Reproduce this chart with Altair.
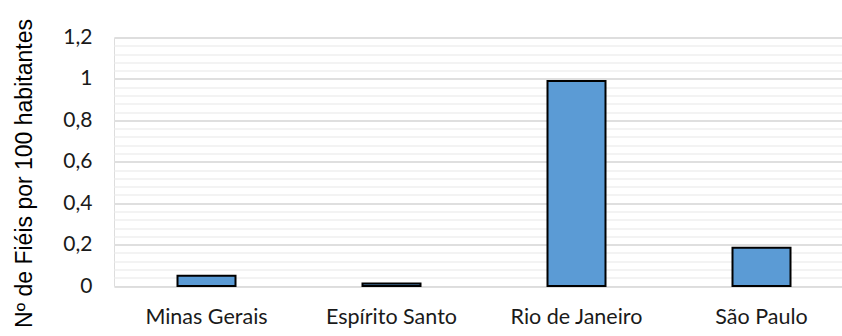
import altair as alt
import pandas as pd

states = ["Minas Gerais", "Espírito Santo", "Rio de Janeiro", "São Paulo"]
values = [0.05, 0.012, 0.99, 0.185]
major_ticks = [0, 0.2, 0.4, 0.6, 0.8, 1.0, 1.2]
minor_ticks = [round(i * 0.04, 2) for i in range(31)]

df = pd.DataFrame({"estado": states, "valor": values})

yscale = alt.Scale(domain=[0, 1.2], nice=False, zero=True)
xscale = alt.Scale(range=[0, 740])
xaxis = alt.Axis(title=None, labelAngle=0, ticks=False, domain=False,
                 labelFont="Lato", labelFontSize=21.5, labelColor="#1a1a1a",
                 labelPadding=20)

minor = alt.Chart(df).mark_bar(opacity=0).encode(
    x=alt.X("estado:N", sort=states, scale=xscale, axis=xaxis),
    y=alt.Y("valor:Q", scale=yscale,
            axis=alt.Axis(values=minor_ticks, grid=True, gridColor="#efefef",
                          gridWidth=1.5, labels=False, ticks=False, domain=False,
                          title=None, orient="left")),
)

bars = alt.Chart(df).mark_bar(size=58, color="#5b9bd5", stroke="#000000",
                              strokeWidth=2).encode(
    x=alt.X("estado:N", sort=states, scale=xscale, axis=xaxis),
    y=alt.Y("valor:Q", scale=yscale,
            axis=alt.Axis(values=major_ticks, grid=True, gridColor="#d9d9d9",
                          gridWidth=1.5, ticks=False, domain=False,
                          labelExpr="replace(format(datum.value, ''), '.', ',')",
                          labelFont="Lato", labelFontSize=21, labelColor="#1a1a1a",
                          labelPadding=22, orient="left",
                          title="Nº de Fiéis por 100 habitantes",
                          titleFont="Liberation Sans", titleFontSize=23,
                          titleFontWeight=400, titleColor="#000000",
                          titleAlign="center", titleBaseline="alphabetic",
                          titleAngle=270,
                          titleX=-83, titleY=135.5)),
)

chart = alt.layer(minor, bars).resolve_axis(y="independent").properties(
    width=728, height=248.5,
    autosize=alt.AutoSizeParams(type="none"),
    padding={"left": 114, "top": 37.5, "right": 0, "bottom": 50},
).configure_view(stroke=None).configure(background="white")

chart.save("out.html", embed_options={"renderer": "svg", "actions": False})
